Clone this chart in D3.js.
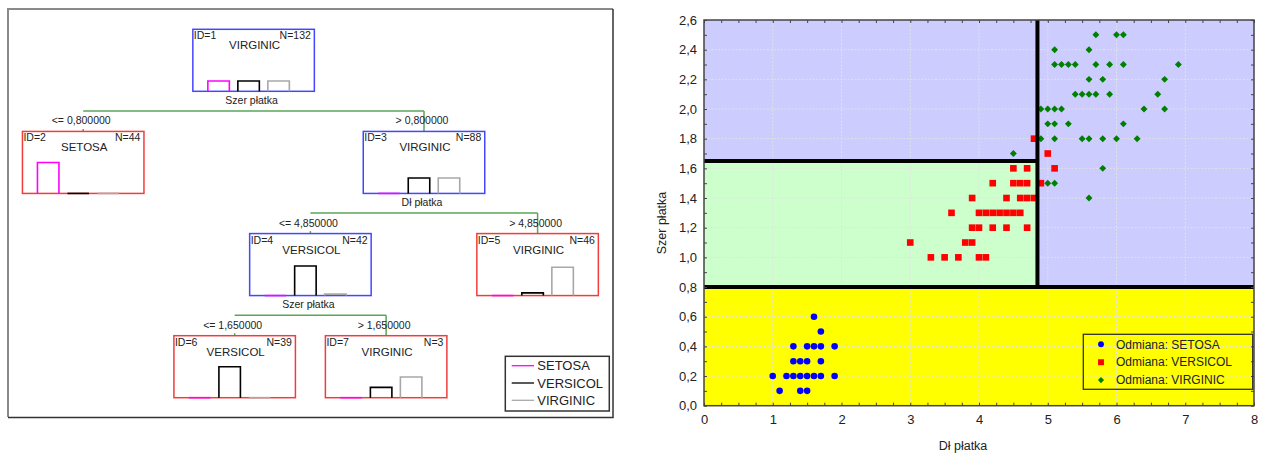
<!DOCTYPE html>
<html>
<head>
<meta charset="utf-8">
<title>Drzewo klasyfikacyjne - irysy</title>
<script src="https://d3js.org/d3.v7.min.js"></script>
<style>
  body { margin: 0; background: #fff; }
  text { font-family: 'Liberation Sans', Arial, sans-serif; fill: #222; }
</style>
</head>
<body>
<svg width="1261" height="455"></svg>
<script>
// ---- tree data ----
const classNames = ["SETOSA", "VERSICOL", "VIRGINIC"];
const classColors = ["#ff00ff", "#000000", "#a8a8a8"];
const nodeIds = ["1", "2", "3", "4", "5", "6", "7"];
const nodeParents = [null, "1", "1", "3", "3", "4", "4"];
const nodeLabels = ["VIRGINIC", "SETOSA", "VIRGINIC", "VERSICOL", "VIRGINIC", "VERSICOL", "VIRGINIC"];
const nodeN = [132, 44, 88, 42, 46, 39, 3];
const nodeCounts = [[44, 44, 44], [44, 0, 0], [0, 44, 44], [0, 40, 2], [0, 4, 42], [0, 39, 0], [0, 1, 2]];
const splitVars = ["Szer płatka", "", "Dł płatka", "Szer płatka", "", "", ""];
const conditions = ["", "<= 0,800000", "> 0,800000", "<= 4,850000", "> 4,850000", "<= 1,650000", "> 1,650000"];

// ---- scatter data (Dł płatka, Szer płatka) ----
const setosa = [
  [1.6, 0.6], [1.7, 0.5],
  [1.3, 0.4], [1.5, 0.4], [1.6, 0.4], [1.7, 0.4], [1.9, 0.4],
  [1.3, 0.3], [1.4, 0.3], [1.5, 0.3], [1.7, 0.3],
  [1.0, 0.2], [1.2, 0.2], [1.3, 0.2], [1.4, 0.2], [1.5, 0.2], [1.6, 0.2], [1.7, 0.2], [1.9, 0.2],
  [1.1, 0.1], [1.4, 0.1], [1.5, 0.1]
];
const versicol = [
  [3.3, 1.0], [3.5, 1.0], [3.7, 1.0], [4.0, 1.0], [4.1, 1.0],
  [3.0, 1.1], [3.8, 1.1], [3.9, 1.1],
  [3.9, 1.2], [4.0, 1.2], [4.2, 1.2], [4.4, 1.2], [4.7, 1.2],
  [3.6, 1.3], [4.0, 1.3], [4.1, 1.3], [4.2, 1.3], [4.3, 1.3], [4.4, 1.3], [4.5, 1.3], [4.6, 1.3],
  [3.9, 1.4], [4.4, 1.4], [4.6, 1.4], [4.7, 1.4], [4.8, 1.4],
  [4.2, 1.5], [4.5, 1.5], [4.6, 1.5], [4.7, 1.5], [4.9, 1.5],
  [4.5, 1.6], [4.7, 1.6], [5.1, 1.6],
  [5.0, 1.7], [4.8, 1.8]
];
const virginic = [
  [5.6, 1.4], [5.0, 1.5], [5.1, 1.5], [5.8, 1.6], [4.5, 1.7],
  [4.9, 1.8], [5.1, 1.8], [5.5, 1.8], [5.6, 1.8], [5.8, 1.8], [6.0, 1.8], [6.3, 1.8],
  [5.0, 1.9], [5.1, 1.9], [5.3, 1.9], [6.1, 1.9],
  [4.9, 2.0], [5.0, 2.0], [5.1, 2.0], [5.2, 2.0], [6.4, 2.0], [6.7, 2.0],
  [5.4, 2.1], [5.5, 2.1], [5.6, 2.1], [5.7, 2.1], [5.9, 2.1], [6.6, 2.1],
  [5.6, 2.2], [5.8, 2.2], [6.7, 2.2],
  [5.1, 2.3], [5.2, 2.3], [5.3, 2.3], [5.4, 2.3], [5.7, 2.3], [5.9, 2.3], [6.1, 2.3], [6.9, 2.3],
  [5.1, 2.4], [5.6, 2.4],
  [5.7, 2.5], [6.0, 2.5], [6.1, 2.5]
];
const seriesNames = ["Odmiana: SETOSA", "Odmiana: VERSICOL", "Odmiana: VIRGINIC"];
const splitWidthLow = 0.8, splitWidthHigh = 1.65, splitLength = 4.85;
const xTickValues = [0, 1, 2, 3, 4, 5, 6, 7, 8];
const yTickValues = [0, 0.2, 0.4, 0.6, 0.8, 1.0, 1.2, 1.4, 1.6, 1.8, 2.0, 2.2, 2.4, 2.6];

const svg = d3.select("svg");

// ================= left panel: tree =================
const tree = svg.append("g");
tree.append("path").attr("d", "M8,417 V9 H613").attr("fill", "none")
    .attr("stroke", "#8a8a8a").attr("stroke-width", 2);
tree.append("path").attr("d", "M613,9 V417.5 H8").attr("fill", "none")
    .attr("stroke", "#333").attr("stroke-width", 1.5);

const table = nodeIds.map((id, i) => ({
  id, parent: nodeParents[i], label: nodeLabels[i], n: nodeN[i],
  counts: nodeCounts[i], split: splitVars[i], cond: conditions[i]
}));
const root = d3.stratify().id(d => d.id).parentId(d => d.parent)(table);
d3.cluster().nodeSize([1, 1]).separation(() => 1)(root);

const leafX = d3.extent(root.leaves(), d => d.x);
const tx = d3.scaleLinear().domain(leafX).range([83.2, 537.6]);
const ty = d3.scaleLinear().domain([0, 3]).range([29.3, 335.7]);
const boxW = 121.5, boxH = 62;
const barBand = d3.scaleBand().domain(classNames).range([15, 96.5]).paddingInner(0.2833);
const barH = d3.scaleLinear().domain([0, 1]).range([0, 31]);
const linkColor = "#5aa55a";

// connectors
root.descendants().filter(d => d.children).forEach(p => {
  const cx = tx(p.x), bottom = ty(p.depth) + boxH, hy = bottom + 19.6;
  const kids = p.children;
  tree.append("line")
      .attr("x1", tx(kids[0].x)).attr("x2", tx(kids[kids.length - 1].x))
      .attr("y1", hy).attr("y2", hy)
      .attr("stroke", linkColor).attr("stroke-width", 1.5);
  kids.forEach((k, i) => {
    const top = ty(k.depth);
    tree.append("line")
        .attr("x1", tx(k.x)).attr("x2", tx(k.x))
        .attr("y1", i === 0 ? top - 2.5 : hy).attr("y2", top)
        .attr("stroke", linkColor).attr("stroke-width", 1.5);
    tree.append("text").attr("x", tx(k.x) - 2).attr("y", top - 7)
        .attr("text-anchor", "middle").attr("font-size", 10.5)
        .text(k.data.cond);
  });
  tree.append("text").attr("x", cx - 2).attr("y", bottom + 12.8)
      .attr("text-anchor", "middle").attr("font-size", 10.5)
      .text(p.data.split);
});

// node boxes
root.descendants().forEach(d => {
  const left = tx(d.x) - boxW / 2, top = ty(d.depth), bottom = top + boxH;
  const g = tree.append("g");
  g.append("rect").attr("x", left).attr("y", top).attr("width", boxW).attr("height", boxH)
      .attr("fill", "#fff")
      .attr("stroke", d.children ? "#4646ff" : "#f23c3c").attr("stroke-width", 1.5);
  d.data.counts.forEach((c, i) => {
    const bx = left + barBand(classNames[i]), bw = barBand.bandwidth();
    const h = barH(c / d.data.n);
    g.append("path")
        .attr("d", h > 0 ? `M${bx},${bottom}V${bottom - h}H${bx + bw}V${bottom}` : `M${bx},${bottom}H${bx + bw}`)
        .attr("fill", "none").attr("stroke", classColors[i]).attr("stroke-width", 1.6);
  });
  g.append("text").attr("x", left + 1).attr("y", top + 10).attr("font-size", 10.5).text("ID=" + d.data.id);
  g.append("text").attr("x", left + boxW - 3.5).attr("y", top + 10).attr("text-anchor", "end")
      .attr("font-size", 10.5).text("N=" + d.data.n);
  g.append("text").attr("x", tx(d.x) + 1).attr("y", top + 20).attr("text-anchor", "middle")
      .attr("font-size", 11.5).text(d.data.label);
});

// tree legend
const tl = tree.append("g");
tl.append("rect").attr("x", 505.3).attr("y", 356.3).attr("width", 104).attr("height", 54.7)
    .attr("fill", "#fff").attr("stroke", "#333").attr("stroke-width", 1.5);
classNames.forEach((c, i) => {
  const y = 365.7 + i * 17.3;
  tl.append("line").attr("x1", 511.7).attr("x2", 534).attr("y1", y).attr("y2", y)
      .attr("stroke", classColors[i]).attr("stroke-width", 1.3);
  tl.append("text").attr("x", 537.3).attr("y", y).attr("dy", "0.35em")
      .attr("font-size", 13).text(c);
});

// ================= right panel: scatter =================
const x = d3.scaleLinear().domain([0, 8]).range([704, 1254]);
const y = d3.scaleLinear().domain([0, 2.6]).range([405.7, 20]);
const sc = svg.append("g");

// regions
sc.append("rect").attr("x", x(0)).attr("y", y(2.6)).attr("width", x(8) - x(0))
    .attr("height", y(splitWidthLow) - y(2.6)).attr("fill", "#ccccff");
sc.append("rect").attr("x", x(0)).attr("y", y(splitWidthHigh)).attr("width", x(splitLength) - x(0))
    .attr("height", y(splitWidthLow) - y(splitWidthHigh)).attr("fill", "#ccffcc");
sc.append("rect").attr("x", x(0)).attr("y", y(splitWidthLow)).attr("width", x(8) - x(0))
    .attr("height", y(0) - y(splitWidthLow)).attr("fill", "#ffff00");

// grid
const grid = sc.append("g").attr("stroke", "#e2e2e2").attr("stroke-dasharray", "2,1.5");
xTickValues.slice(1, -1).forEach(v => grid.append("line")
    .attr("x1", x(v)).attr("x2", x(v)).attr("y1", y(0)).attr("y2", y(2.6)));
yTickValues.slice(1, -1).forEach(v => grid.append("line")
    .attr("x1", x(0)).attr("x2", x(8)).attr("y1", y(v)).attr("y2", y(v)));

// points
const sym = d3.symbol();
const series = [setosa, versicol, virginic];
const seriesColors = ["#0000ff", "#ff0000", "#008000"];
const seriesShapes = [[d3.symbolCircle, 34, 0], [d3.symbolSquare, 44, 0], [d3.symbolSquare, 24, 45]];
series.forEach((pts, i) => {
  sc.append("g").selectAll("path").data(pts).join("path")
      .attr("transform", d => `translate(${x(d[0])},${y(d[1])}) rotate(${seriesShapes[i][2]})`)
      .attr("d", sym.type(seriesShapes[i][0]).size(seriesShapes[i][1])())
      .attr("fill", seriesColors[i]);
});

// split lines
const split = sc.append("g").attr("stroke", "#000").attr("stroke-width", 4);
split.append("line").attr("x1", x(0)).attr("x2", x(8)).attr("y1", y(splitWidthLow)).attr("y2", y(splitWidthLow));
split.append("line").attr("x1", x(0)).attr("x2", x(splitLength)).attr("y1", y(splitWidthHigh)).attr("y2", y(splitWidthHigh));
split.append("line").attr("x1", x(splitLength)).attr("x2", x(splitLength)).attr("y1", y(splitWidthLow)).attr("y2", y(2.6));

// ticks (inward) on all sides
const xMinor = d3.range(0, 8.01, 0.25), yMinor = d3.range(0, 2.61, 0.1);
const tickStyle = g => { g.select(".domain").remove(); g.selectAll("line").attr("stroke", "#444"); };
sc.append("g").attr("transform", `translate(0,${y(0)})`)
    .call(d3.axisBottom(x).tickValues(xMinor).tickSize(-3).tickFormat("")).call(tickStyle);
sc.append("g").attr("transform", `translate(0,${y(2.6)})`)
    .call(d3.axisTop(x).tickValues(xMinor).tickSize(-3).tickFormat("")).call(tickStyle);
sc.append("g").attr("transform", `translate(${x(0)},0)`)
    .call(d3.axisLeft(y).tickValues(yMinor).tickSize(-3).tickFormat("")).call(tickStyle);
sc.append("g").attr("transform", `translate(${x(8)},0)`)
    .call(d3.axisRight(y).tickValues(yMinor).tickSize(-3).tickFormat("")).call(tickStyle);

// labels
const comma = v => d3.format(".1f")(v).replace(".", ",");
sc.append("g").attr("transform", `translate(0,${y(0)})`)
    .call(d3.axisBottom(x).tickValues(xTickValues).tickSize(0).tickPadding(9).tickFormat(d3.format("d")))
    .call(g => g.select(".domain").remove())
    .selectAll("text").attr("font-size", 13).attr("font-family", null).attr("fill", "#222");
sc.append("g").attr("transform", `translate(${x(0)},0)`)
    .call(d3.axisLeft(y).tickValues(yTickValues).tickSize(0).tickPadding(7).tickFormat(comma))
    .call(g => g.select(".domain").remove())
    .selectAll("text").attr("font-size", 13).attr("font-family", null).attr("fill", "#222");

// frame
sc.append("rect").attr("x", x(0)).attr("y", y(2.6)).attr("width", x(8) - x(0))
    .attr("height", y(0) - y(2.6)).attr("fill", "none").attr("stroke", "#444").attr("stroke-width", 1.5);

// axis titles
sc.append("text").attr("x", 963).attr("y", 450).attr("text-anchor", "middle")
    .attr("font-size", 12.5).text("Dł płatka");
sc.append("text").attr("transform", "translate(666,223) rotate(-90)").attr("text-anchor", "middle")
    .attr("font-size", 12.5).text("Szer płatka");

// scatter legend
const lg = sc.append("g");
lg.append("rect").attr("x", 1083.3).attr("y", 334.3).attr("width", 169.4).attr("height", 55)
    .attr("fill", "none").attr("stroke", "#333").attr("stroke-width", 1.3);
seriesNames.forEach((s, i) => {
  const ly = 344.3 + i * 17.9;
  lg.append("path").attr("transform", `translate(1101,${ly}) rotate(${seriesShapes[i][2]})`)
      .attr("d", sym.type(seriesShapes[i][0]).size(seriesShapes[i][1] * 0.8)())
      .attr("fill", seriesColors[i]);
  lg.append("text").attr("x", 1116).attr("y", ly).attr("dy", "0.35em")
      .attr("font-size", 12).text(s);
});
</script>
</body>
</html>
